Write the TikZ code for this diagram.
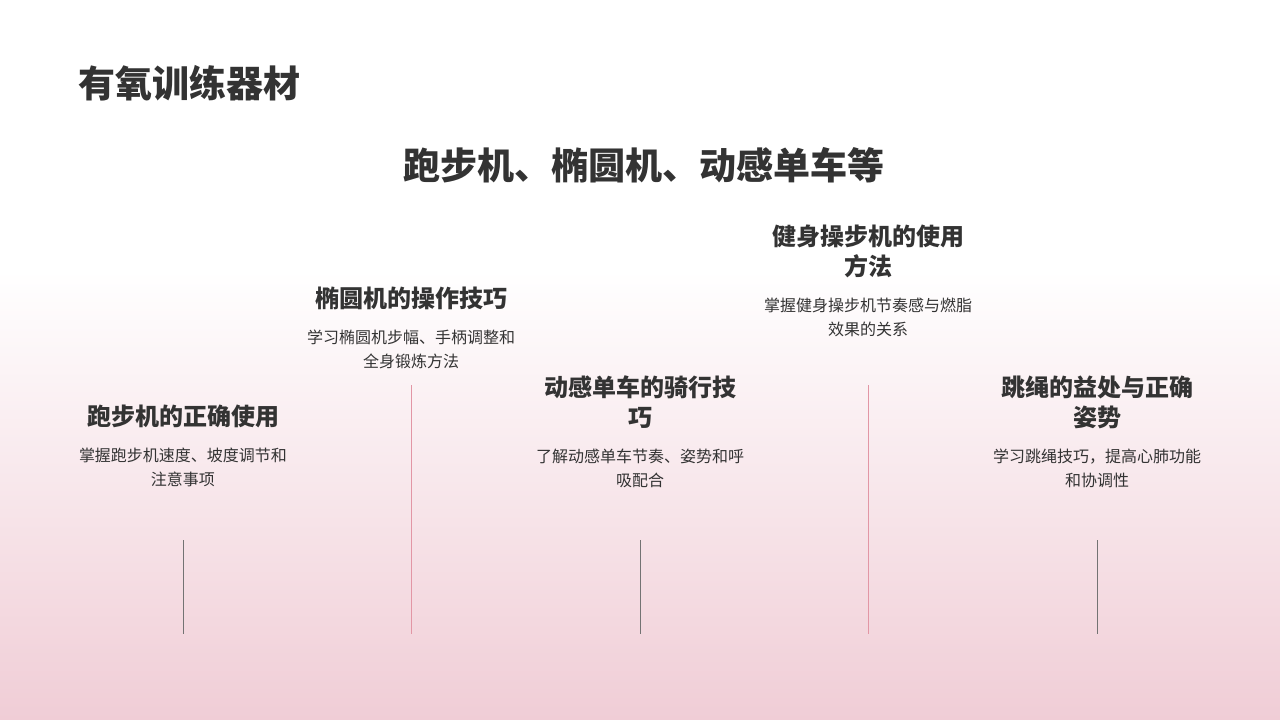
\documentclass[tikz,border=0pt]{standalone}
\usepackage{fontspec}
\setmainfont{Noto Sans CJK SC}
\usetikzlibrary{positioning}
\definecolor{bgpink}{RGB}{240,205,214}
\definecolor{linepink}{RGB}{226,150,165}
\definecolor{txt}{RGB}{51,51,51}

\begin{document}
\begin{tikzpicture}[
    x=1pt, y=-1pt,
    every node/.style={text=txt, align=center, inner sep=0pt},
    titel/.style={font=\fontsize{24}{30}\selectfont\bfseries, text width=220pt},
    tekst/.style={font=\fontsize{16}{24}\selectfont, text width=240pt},
    gra/.style={draw=black!55, line width=0.8pt},
    rosa/.style={draw=linepink, line width=0.8pt}
    ]
\useasboundingbox (0,0) rectangle (1280,720);
\fill[white] (0,0) rectangle (1280,720);
\shade[top color=white, bottom color=bgpink] (0,270) rectangle (1280,720);

\node[anchor=west, font=\fontsize{37}{40}\selectfont\bfseries] (hoved) at (78,83) {有氧训练器材};
\node[font=\fontsize{37}{40}\selectfont\bfseries] (under) at (644,165) {跑步机、椭圆机、动感单车等};

%cards
\node[titel] (t1) at (183,416) {跑步机的正确使用};
\node[tekst, below=20pt of t1] (b1) {掌握跑步机速度、坡度调节和\\注意事项};
\node[titel] (t2) at (411,298) {椭圆机的操作技巧};
\node[tekst, below=20pt of t2] (b2) {学习椭圆机步幅、手柄调整和\\全身锻炼方法};
\node[titel] (t3) at (640,402) {动感单车的骑行技\\巧};
\node[tekst, below=20pt of t3] (b3) {了解动感单车节奏、姿势和呼\\吸配合};
\node[titel] (t4) at (868,251) {健身操步机的使用\\方法};
\node[tekst, below=20pt of t4] (b4) {掌握健身操步机节奏感与燃脂\\效果的关系};
\node[titel] (t5) at (1097,402) {跳绳的益处与正确\\姿势};
\node[tekst, below=20pt of t5] (b5) {学习跳绳技巧，提高心肺功能\\和协调性};

%lines
\coordinate (l1a) at (183,540); \coordinate (l1b) at (183,634);
\coordinate (l2a) at (411,385); \coordinate (l2b) at (411,634);
\coordinate (l3a) at (640,540); \coordinate (l3b) at (640,634);
\coordinate (l4a) at (868,385); \coordinate (l4b) at (868,634);
\coordinate (l5a) at (1097,540); \coordinate (l5b) at (1097,634);
\draw[gra] (l1a) -- (l1b);
\draw[rosa] (l2a) -- (l2b);
\draw[gra] (l3a) -- (l3b);
\draw[rosa] (l4a) -- (l4b);
\draw[gra] (l5a) -- (l5b);
\end{tikzpicture}
\end{document}
